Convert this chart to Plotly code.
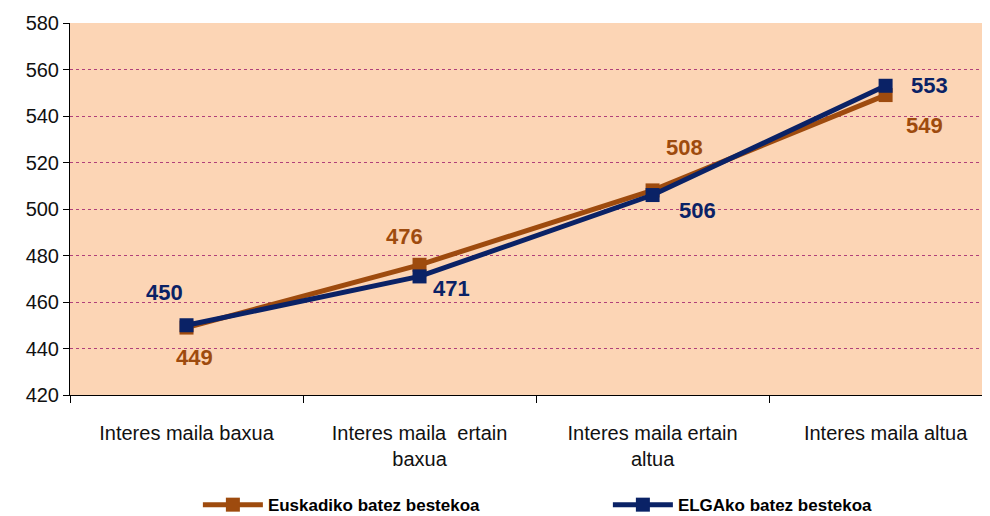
import plotly.graph_objects as go

# datuak
kategoriak = ["Interes maila baxua", "Interes maila  ertain<br>baxua",
              "Interes maila ertain<br>altua", "Interes maila altua"]
euskadi = [449, 476, 508, 549]
elga = [450, 471, 506, 553]
izenak = ["Euskadiko batez bestekoa", "ELGAko batez bestekoa"]

marroia = "#9E4B0E"
urdina = "#0A2266"

# etiketen desplazamenduak (pixeletan)
euskadi_desp = [(8, -30), (-15, 28), (32, 43), (39, -30)]
elga_desp = [(-22, 33), (32, -12), (45, -15), (44, 0)]

fig = go.Figure()
fig.add_trace(go.Scatter(x=kategoriak, y=euskadi, name=izenak[0], mode="lines+markers",
                         line=dict(color=marroia, width=5),
                         marker=dict(symbol="square", size=14, color=marroia)))
fig.add_trace(go.Scatter(x=kategoriak, y=elga, name=izenak[1], mode="lines+markers",
                         line=dict(color=urdina, width=5),
                         marker=dict(symbol="square", size=14, color=urdina)))

for serie, desp, kol in [(euskadi, euskadi_desp, marroia), (elga, elga_desp, urdina)]:
    for k, v, d in zip(kategoriak, serie, desp):
        fig.add_annotation(x=k, y=v, text=str(v), showarrow=False,
                           xshift=d[0], yshift=d[1],
                           font=dict(family="Arial", size=22, color=kol, weight="bold"))

# orriak 8px-ko marjina du, beraz irudia txikiagoa
fig.update_layout(
    width=982, height=508,
    margin=dict(l=62, r=0, t=15, b=121, autoexpand=False),
    paper_bgcolor="white",
    plot_bgcolor="#FCD5B5",
    font=dict(family="Arial", size=20, color="#111111"),
    legend=dict(orientation="h", x=0.139, xanchor="left", y=-0.296, yanchor="middle",
                font=dict(size=17, color="black", weight="bold"),
                itemwidth=60, entrywidthmode="pixels", entrywidth=335),
    showlegend=True,
)
fig.update_xaxes(type="category", range=[-0.5, 3.448], showline=True, linecolor="black",
                 linewidth=1, ticks="outside", tickson="boundaries", ticklen=7,
                 tickcolor="black", showgrid=False, ticklabelstandoff=20)
fig.update_yaxes(range=[420, 580], dtick=20, showline=True, linecolor="black", linewidth=1,
                 ticks="outside", ticklen=6, tickcolor="black", showgrid=True,
                 gridcolor="#B0407A", griddash="dot", gridwidth=1, zeroline=False)

fig.write_html("out.html")
